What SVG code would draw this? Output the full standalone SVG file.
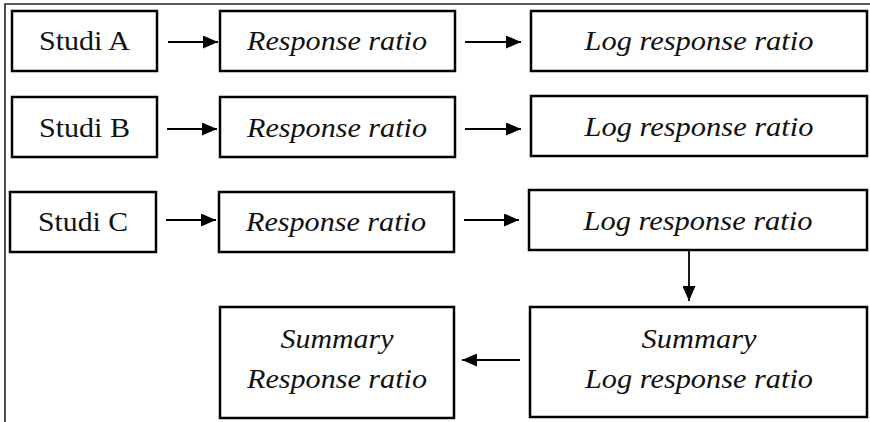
<svg xmlns="http://www.w3.org/2000/svg" width="870" height="422" viewBox="0 0 870 422">
  <style>
    .box { fill: #fff; stroke: #000; stroke-width: 2.5; }
    .t { font-family: "Liberation Serif", "Times New Roman", serif; font-size: 28px; fill: #111; text-anchor: middle; }
    .i { font-style: italic; }
    .edge { stroke: #000; stroke-width: 1.8; fill: none; marker-end: url(#head); }
    .frame { stroke: #222; stroke-width: 1.6; fill: none; }
  </style>
  <defs>
    <marker id="head" markerUnits="userSpaceOnUse" markerWidth="15" markerHeight="13" refX="15" refY="6.5" orient="auto">
      <path d="M0,0 L15,6.5 L0,13 Z" fill="#000"/>
    </marker>
  </defs>
  <rect width="870" height="422" fill="#fff"/>

  <!-- frame -->
  <path class="frame" d="M5,422 V4 H870"/>

  <!-- row A -->
  <g id="studi-a">
    <rect class="box" x="12" y="11" width="145" height="60"/>
    <text class="t" x="84.5" y="50" textLength="91" lengthAdjust="spacingAndGlyphs">Studi A</text>
  </g>
  <g id="rr-a">
    <rect class="box" x="220" y="11" width="235" height="60"/>
    <text class="t i" x="337" y="50" textLength="180" lengthAdjust="spacingAndGlyphs">Response ratio</text>
  </g>
  <g id="lrr-a">
    <rect class="box" x="531" y="11" width="336" height="60"/>
    <text class="t i" x="699" y="50" textLength="229" lengthAdjust="spacingAndGlyphs">Log response ratio</text>
  </g>

  <!-- row B -->
  <g id="studi-b">
    <rect class="box" x="12" y="97" width="145" height="60"/>
    <text class="t" x="84.5" y="137" textLength="91" lengthAdjust="spacingAndGlyphs">Studi B</text>
  </g>
  <g id="rr-b">
    <rect class="box" x="220" y="97" width="235" height="60"/>
    <text class="t i" x="337" y="137" textLength="180" lengthAdjust="spacingAndGlyphs">Response ratio</text>
  </g>
  <g id="lrr-b">
    <rect class="box" x="531" y="96" width="336" height="60"/>
    <text class="t i" x="699" y="136" textLength="229" lengthAdjust="spacingAndGlyphs">Log response ratio</text>
  </g>

  <!-- row C -->
  <g id="studi-c">
    <rect class="box" x="10" y="192" width="146" height="60"/>
    <text class="t" x="83" y="231" textLength="90" lengthAdjust="spacingAndGlyphs">Studi C</text>
  </g>
  <g id="rr-c">
    <rect class="box" x="219" y="192" width="235" height="60"/>
    <text class="t i" x="336" y="231" textLength="180" lengthAdjust="spacingAndGlyphs">Response ratio</text>
  </g>
  <g id="lrr-c">
    <rect class="box" x="529" y="190" width="338" height="60"/>
    <text class="t i" x="698" y="230" textLength="229" lengthAdjust="spacingAndGlyphs">Log response ratio</text>
  </g>

  <!-- summaries -->
  <g id="summary-rr">
    <rect class="box" x="220" y="307" width="234" height="111"/>
    <text class="t i" x="337" y="348" textLength="113" lengthAdjust="spacingAndGlyphs">Summary</text>
    <text class="t i" x="337" y="388" textLength="180" lengthAdjust="spacingAndGlyphs">Response ratio</text>
  </g>
  <g id="summary-lrr">
    <rect class="box" x="530" y="307" width="337" height="110"/>
    <text class="t i" x="699" y="348" textLength="115" lengthAdjust="spacingAndGlyphs">Summary</text>
    <text class="t i" x="699" y="388" textLength="228" lengthAdjust="spacingAndGlyphs">Log response ratio</text>
  </g>

  <!-- connectors -->
  <g id="connectors">
    <line class="edge" x1="168" y1="42" x2="218" y2="42"/>
    <line class="edge" x1="465" y1="42" x2="521" y2="42"/>
    <line class="edge" x1="167" y1="129" x2="217" y2="129"/>
    <line class="edge" x1="465" y1="129" x2="521" y2="129"/>
    <line class="edge" x1="166" y1="220" x2="216" y2="220"/>
    <line class="edge" x1="464" y1="220" x2="519" y2="220"/>
    <line class="edge" x1="689" y1="251" x2="689" y2="301"/>
    <line class="edge" x1="520" y1="360" x2="462" y2="360"/>
  </g>
</svg>
